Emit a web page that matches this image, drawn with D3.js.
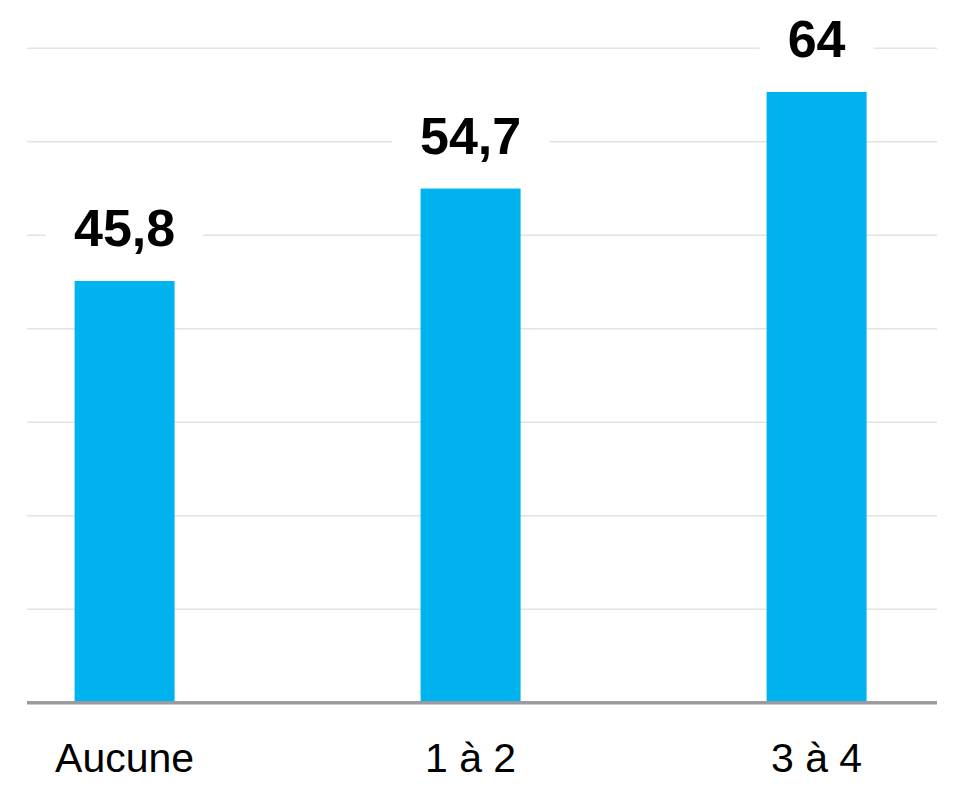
<!DOCTYPE html>
<html>
<head>
<meta charset="utf-8">
<script src="https://cdn.jsdelivr.net/npm/d3@7"></script>
<style>
  html, body { margin: 0; padding: 0; background: #ffffff; }
  svg { display: block; }
</style>
</head>
<body>
<div id="chart"></div>
<script>
// ---- data ----
const categories = ["Aucune", "1 à 2", "3 à 4"];
const values = [45.8, 54.7, 64];
const yDomain = [5.2, 68.3];
const gridValues = [14.2, 23.2, 32.2, 41.2, 50.2, 59.2, 68.2];

// ---- layout ----
const W = 958, H = 802;
const plot = { left: 27, right: 937, top: 47.3, bottom: 702.7 };
const barWidth = 100;

const svg = d3.select("#chart").append("svg")
  .attr("width", W).attr("height", H);

const x = d3.scalePoint().domain(categories).range([124.6, 816.6]).padding(0);
const y = d3.scaleLinear().domain(yDomain).range([plot.bottom, plot.top]);

const fr = d3.formatLocale({ decimal: ",", thousands: " ", grouping: [3], currency: ["", " €"] });
const fmt = fr.format("~g");

const font = "'Liberation Sans', Arial, Helvetica, sans-serif";

// gridlines
svg.append("g").selectAll("line").data(gridValues).join("line")
  .attr("x1", plot.left).attr("x2", plot.right)
  .attr("y1", d => y(d)).attr("y2", d => y(d))
  .attr("stroke", "#e3e3e3").attr("stroke-width", 1.5);

const data = categories.map((c, i) => ({ c, v: values[i] }));

// value labels with white backgrounds
const labG = svg.append("g");
const labels = labG.selectAll("g").data(data).join("g");
const texts = labels.append("text")
  .attr("x", d => x(d.c))
  .attr("y", d => y(d.v) - 35)
  .attr("text-anchor", "middle")
  .attr("font-family", font)
  .attr("font-weight", "bold")
  .attr("font-size", 52)
  .attr("fill", "#000")
  .text(d => fmt(d.v));
texts.each(function() {
  const b = this.getBBox();
  d3.select(this.parentNode).insert("rect", "text")
    .attr("x", b.x - 28).attr("y", b.y - 4)
    .attr("width", b.width + 56).attr("height", b.height + 8)
    .attr("fill", "#ffffff");
});

// bars
svg.append("g").selectAll("rect").data(data).join("rect")
  .attr("x", d => x(d.c) - barWidth / 2)
  .attr("width", barWidth)
  .attr("y", d => y(d.v))
  .attr("height", d => y(yDomain[0]) - y(d.v))
  .attr("fill", "#00b3ef");

// baseline
svg.append("line")
  .attr("x1", plot.left).attr("x2", plot.right)
  .attr("y1", y(yDomain[0])).attr("y2", y(yDomain[0]))
  .attr("stroke", "#9b9b9f").attr("stroke-width", 3.5);

// category labels
svg.append("g").selectAll("text").data(categories).join("text")
  .attr("x", d => x(d))
  .attr("y", 772)
  .attr("text-anchor", "middle")
  .attr("font-family", font)
  .attr("font-size", 41)
  .attr("fill", "#000")
  .text(d => d);
</script>
</body>
</html>
